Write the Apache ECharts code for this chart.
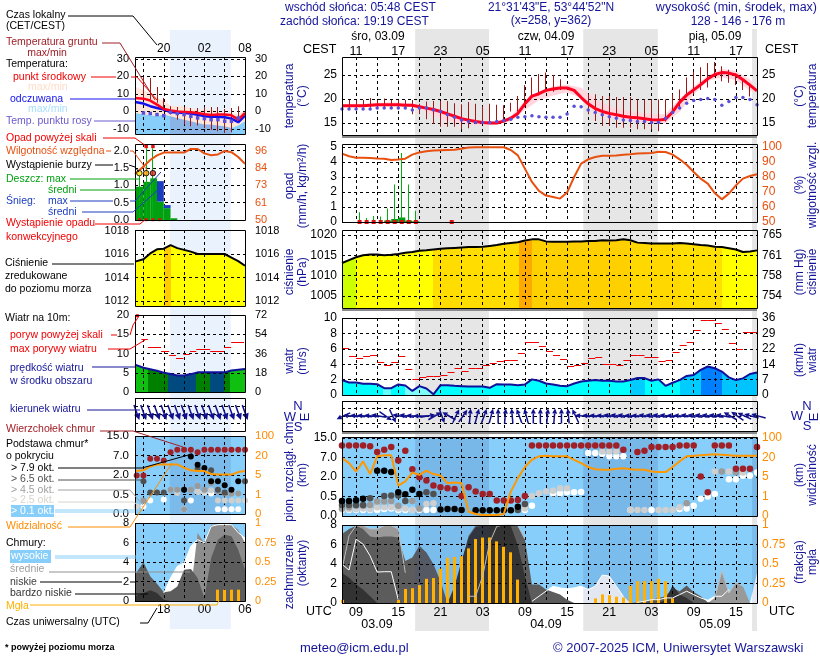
<!DOCTYPE html>
<html>
<head>
<meta charset="utf-8">
<title>meteogram</title>
<script src="https://cdn.jsdelivr.net/npm/echarts@6/dist/echarts.min.js"></script>
<style>
html,body{margin:0;padding:0;background:#fff;}
#main{width:820px;height:660px;}
</style>
</head>
<body>
<div id="main"></div>
<script>
// x values on all panels: hours counted from 03.09 00 UTC
var rHours = [];
for (var hh = 7; hh <= 66; hh++) rHours.push(hh);
var lHours = [13.75,15,16,17,18,19,20,21,22,23,24,25,26,27,28,29,30];
var rTicks = [9,12,15,18,21,24,27,30,33,36,39,42,45,48,51,54,57,60,63];
var rLabelHours = [9,15,21,27,33,39,45,51,57,63];
var lTicks = [15,18,21,24,27];
var lLabelHours = [18,24,30];
var rNight = [[17.4,27.9],[41.3,51.9],[65.3,66]];
var lNight = [[18.9,27.9]];

// right panel: temperature
var rTempMid = [18.6,18.6,18.6,18.6,18.7,18.8,18.8,18.8,18.8,18.7,18.7,18.4,18.1,17.8,17.4,16.9,16.4,15.9,15.6,15.3,15.1,15,15,15.4,16,17,19,20.6,21.1,21.8,22.1,22.3,22.3,21.8,20.3,19,18,17.4,17,16.7,16.4,16.2,16.1,15.9,15.7,15.6,15.8,17.3,19.3,20.8,21.9,23,24.2,25.1,25.5,25.4,25,24,22.9,21.7];
var rDew = [17.9,17.9,17.9,17.9,17.9,18.1,18.1,18.1,18.1,18.1,17.7,18.1,18.1,17.7,17.4,16.7,16.2,15.6,15.3,15.1,15.1,15.1,15.3,15.5,15.8,16.2,16.3,16.5,16.3,16.2,16.2,16.2,16.9,18.5,18.4,17.7,17.2,16.7,16.3,16,15.6,15.5,15.3,15.3,15.1,15.1,16,17.2,18.1,19.1,19.7,19.9,20.1,19.9,18.7,19.5,20.3,20.3,19.9,18.8];
var rBandHours = [7,9,11,13,15,17,19,21,23,25,27,29,31,33,35,37,39,41,43,45,47,49,51,53,55,57,59,61,63,65,66];
var rBandHigh = [18.8,18.9,19,19.2,19.2,19,18.4,17.8,16.8,15.9,15.4,15.3,16.4,19.5,21.5,22.6,22.9,22.3,20,18.4,17.6,17.2,16.8,16.8,20,22.6,24.8,26.2,25.8,24,22];
var rBandLow = [18.4,18.4,18.5,18.5,18.5,18.4,17.4,16,15.1,14.7,14.6,14.7,15.4,17.8,19.8,20.8,21.4,20.3,17.2,16.1,15.8,15.3,15,15,17.4,21,23.8,24.6,24,21.8,21.3];
// ground temperature: [hour, min, max]
var rGround = [[8,18.1,19.8],[9,18.1,19.8],[10,18.2,19.8],[11,18.2,20.2],[12,18.4,19.8],[13,18.2,20.1],[14,18.3,19.8],[15,18.3,19.8],[16,18.1,19.8],[17,16.8,19.8],[18,17,19],[19,15.8,19.5],[20,14.8,19.6],[21,14.2,19.6],[22,14.2,19.6],[23,14.2,19.1],[24,13.7,18.9],[25,13.9,19.4],[26,14.8,19],[27,14.8,18.5],[28,15,19],[29,15.2,18.8],[30,15.5,18.7],[31,17.4,19.2],[32,17.4,20.6],[33,18.3,22.9],[34,20.5,24.5],[35,20.8,25.2],[36,22.1,25.5],[37,21.5,25],[38,21.9,24.1],[42,16.8,21],[43,15.4,21],[44,14.4,20.6],[45,14.4,20.6],[46,14,20.4],[47,14,20.4],[48,14,20.4],[49,13.7,19.9],[50,13.7,19.9],[51,13.7,19.9],[52,13.3,19.9],[53,15.3,19.9],[54,17.5,21],[55,18.3,22],[56,20.5,24.5],[57,21,25.7],[58,21.9,26.6],[59,22.4,27.5],[60,24.6,27.7],[61,23.7,26.8],[62,23.4,26.1],[63,22.9,25.3],[64,21.9,24.1],[65,20.5,22.7]];

// right panel: precipitation and humidity
var rRainMax = [[9.5,0,0.65],[10.5,0,0.27],[11.5,0,0.4],[12.5,0,0.37],[13.5,0,0.9],[14.5,0,2.5],[15.5,0,4.6],[16.5,0,2.5],[17.5,0,0.75]];
var rRainMean = [[13,14,0.1,0],[14,15,0.2,0],[15,16,0.3,0],[16,17,0.1,0],[17,18,0.05,0]];
var rConvective = [[9.5,0],[10.5,0],[11.5,0],[12.5,0],[13.5,0],[14.5,0],[15.5,0],[16.5,0],[17.5,0],[22.6,0]];
var rHumidity = [95.6,93.8,92.9,92.9,92.7,92.4,92.2,91.3,91.6,92.2,94.9,96.4,97.1,97.6,97.8,98,98.2,98.9,99.6,99.8,99.8,99.8,99.8,99.8,98,94.4,85.6,76.7,70.7,67.6,66.7,65.6,69.6,80,88.9,91.8,93.3,94.2,94.2,94.4,94.9,95.1,95.6,95.8,96,96.9,96.7,94.9,91.8,88.2,83.3,78.9,75.6,69.3,65.1,68.9,74.4,78.9,80.7,81.8];

// right panel: pressure
var rPressure = [1013.1,1013.8,1014.5,1015,1015.2,1015.2,1015,1015.1,1015.3,1015.6,1015.8,1016.1,1016.2,1016.4,1016.6,1016.7,1016.8,1016.9,1017,1017,1017.1,1017.3,1017.5,1017.8,1018,1018.2,1018.6,1018.9,1018.9,1018.4,1018.3,1018.3,1018.3,1018.4,1018.4,1018.5,1018.5,1018.7,1018.6,1018.7,1018.9,1018.7,1018.1,1018,1017.9,1017.9,1017.9,1017.9,1018,1017.9,1017.7,1017.5,1017.4,1017.1,1017,1016.7,1016.4,1015.8,1015.9,1016.2];
var rPressBands = [[7,9,'#ccff00'],[9,20,'#ffff00'],[20,32.1,'#ffdd00'],[32.1,34,'#ffaa00'],[34,48,'#ffd000'],[48,55,'#ffd800'],[55,61,'#ffdf00'],[61,66,'#ffff00']];

// right panel: wind
var rWindMean = [1.94,1.63,1.63,1.45,1.45,1.41,0.88,0.88,1.37,1.23,0.53,1.15,0.84,0.09,1.28,1.28,1.19,1.15,1.1,1.1,1.1,0.93,1.41,1.37,1.37,1.28,1.37,2.03,1.85,1.5,1.37,1.19,1.15,1.5,1.76,1.85,1.94,1.85,1.85,1.76,1.76,1.94,2.2,2.2,1.85,2.03,1.19,1.59,1.94,2.47,2.6,3.26,3.7,3.48,3.04,2.29,1.94,2.16,2.73,2.91];
var rGust = [6.04,5.07,4.8,5.07,5.2,4.27,3.88,4.27,5.07,3.35,2.03,2.33,2.47,2.47,2.6,2.95,3.48,3.08,3.48,3.48,3.88,4.1,4.36,4.54,4.54,5.46,6.92,6.92,6.39,5.73,5.24,4.71,3.74,3.88,4.14,4.8,4.98,4,4,3.88,4.54,5.2,5.2,4.93,4.93,4.41,4.54,5.59,6.52,6.92,8.41,9.74,9.74,9.3,8.63,6.78,5.99,8.24,8.24];
var rWindBands = [[7,12.8,'#00ffff'],[12.8,14,'#66ffff'],[14,15.9,'#00ffff'],[15.9,20,'#80fbfb'],[20,48,'#00ffff'],[48,50.1,'#00ccff'],[50.1,55.1,'#00ffff'],[55.1,58,'#00ccff'],[58,61,'#0080ff'],[61,66,'#00c4ff']];
var rWindDir = [245,275,275,275,275,280,125,155,280,280,275,270,80,60,160,300,25,35,5,15,20,15,0,5,355,340,345,0,0,5,5,0,355,335,275,275,275,275,280,280,280,275,275,280,280,280,280,275,275,280,280,280,280,280,280,300,305,295,285,285];

// right panel: cloud base, value = position on the 0 / 0.5 / 2 / 7 / 15 km scale (one unit per label)
var rTops = [[7,3.62],[8,3.62],[9,3.62],[10,3.62],[11,3.57],[12,3.28],[13,3.4],[14,3.54],[15,2.85],[16,3.35],[17,2.4],[18,1.99],[19,1.82],[20,1.56],[21,1.48],[22,1.42],[23,1.39],[24,1.03],[25,1.48],[26,1.25],[27,1.13],[28,1.13],[29,0.79],[30,0.79],[31,0.79],[32,0.82],[33,1.03],[34,3.62],[35,3.62],[36,3.62],[37,3.62],[38,3.62],[39,3.62],[40,3.62],[41,3.62],[42,3.62],[43,3.62],[44,3.62],[45,3.62],[46,3.62],[47,3.4],[49,3.28],[50,3.35],[51,3.54],[52,3.54],[53,3.54],[54,3.54],[55,3.62],[56,3.62],[57,3.62],[58,2.03],[59,1.22],[60,3.62],[61,3.62],[62,3.62],[63,2.42],[64,2.42],[65,2.42],[66,3.54]];
var rBlack = [[7,0.77],[8,0.77],[9,0.81],[10,0.89],[12,2.32],[13,2.32],[14,2.25],[15,1.22],[16,1.12],[17,1.34],[18,1.13],[21,0.33],[22,0.36],[23,0.36],[24,0.31],[26,0.29],[27,0.29],[28,0.29],[29,0.29],[30,0.29],[31,0.29],[32,0.48]];
var rDark = [[7,0.57],[8,0.57],[9,0.57],[10,0.57],[11,0.91],[13,1.03],[14,1.05],[15,1.05],[16,0.77],[19,1.22],[20,1.13],[32,0.31],[33,0.62]];
var rGray = [[7,0.39],[8,0.45],[9,0.52],[10,0.52],[11,0.57],[12,0.74],[13,0.74],[14,0.77],[15,0.52],[17,0.77],[18,0.39],[56,0.65],[61,2.28],[63,2.23]];
var rLight = [[7,0.34],[8,0.34],[9,0.34],[10,0.39],[11,0.34],[12,0.45],[13,0.45],[14,0.45],[15,0.39],[16,0.39],[17,0.31],[18,0.34],[19,0.62],[20,0.65],[33,0.39],[34,1.03],[35,1.17],[36,1.25],[37,1.3],[38,1.42],[39,1.42],[44,3.31],[45,3.31],[46,3.31],[48,0.31],[49,0.31],[50,0.31],[52,0.31],[53,0.31],[54,0.31],[55,0.45],[60,2.28],[62,2.28],[64,2.23]];
var rWhite = [[7,0.31],[8,0.31],[9,0.31],[10,0.31],[11,0.31],[12,0.31],[13,0.36],[14,0.39],[15,0.31],[16,0.31],[17,0.31],[18,0.31],[19,0.31],[20,0.31],[33,0.31],[34,0.53],[37,1.17],[38,1.17],[39,1.22],[40,1.22],[41,1.23],[42,3.23],[43,3.23],[44,3.19],[45,3.06],[46,3.06],[47,3.06],[48,0.31],[51,0.31],[55,0.36],[56,0.39],[57,0.53],[58,0.88],[59,1],[60,1.13],[62,1.89],[63,1.89],[64,2.06],[65,2.06],[66,2.23]];
var rVisibility = [2.97,2.71,2.28,2.8,2.15,3.06,3.11,3.11,1.56,1.77,2.23,2.11,2.33,2.15,2.08,1.68,1.72,1.68,0.22,0.1,0.05,0.05,0.05,0.1,1.25,1.94,2.51,2.88,3.06,3.09,3.06,3.06,3.06,2.88,2.71,2.51,2.4,2.37,2.37,2.42,2.45,2.4,2.37,2.37,2.28,2.25,2.25,2.51,2.8,3.06,3.09,3.12,3.14,3.16,3.14,3.12,3.09,3.09,3.09,3.09];

// right panel: cloud cover in octas, fog as fraction
var rHigh = [3.97,3.38,6.55,6.03,4.83,3.17,3.21,3.21,0.34,0,0,0,0,0,0,0,0,0,0,0,0,0,0,0,0,0,0,0.17,0.69,1.21,1.72,1.55,1.45,1.55,1.72,1.38,1.72,2.86,2.76,1.72,0.69,0,0.07,0.17,0.34,0.34,0.52,0.52,0.86,1.21,0.86,0.52,0.28,0.69,0.69,1.38,0,0,0,3.1];
var rMid = [3.45,6.9,7.93,7.93,7.59,7.59,7.93,7.93,7.59,3.1,0,0,0,0,0,0,0,0,0.69,0.69,2.76,6.21,7.86,8,8,7.93,6.55,0,0,0,0,0,0,0,0,0,0,0,0,0,0,0,0,0,0,0,0,0,0,0,0,0,0,0.52,3.28,1.03,2.07,1.72,0,0];
var rLow = [7.07,7.59,7.93,7.59,6.83,6.72,6.83,6.83,6.72,4.31,4.66,5.86,5.17,3.97,2.24,0,0.69,4.14,6.9,7.93,7.93,7.93,7.93,7.93,7.93,7.93,6.55,1.9,1.9,1.38,1.14,0.86,0.34,0,0,0,0,0,0,0,0,0,0.07,0.17,0.34,0.52,0.69,1.55,1.21,1.79,1.14,0.69,0.07,0,0,0,0,0,0,0];
var rVeryLow = [3.1,2.59,1.9,1.38,0.69,0,0,0,0,0,0,0,0,0,0,0,1.72,4.31,6.72,7.76,7.93,7.93,7.93,7.93,7.93,5.86,2.76,0,0,0,0,0,0,0,0,0,0,0,0,0,0,0,0,0,0,0,0.34,1.79,0.86,0.52,0,0,0,0,0,0,0,0,0,0];
var rFog = [[7,0,0.04],[15,0,0.04],[16,0,0.18],[17,0,0.19],[18,0,0.23],[19,0,0.31],[20,0,0.32],[21,0,0.44],[22,0,0.58],[23,0,0.59],[24,0,0.6],[25,0,0.7],[26,0,0.82],[27,0,0.84],[28,0,0.84],[29,0,0.79],[30,0,0.72],[31,0,0.65],[32,0,0.3],[43,0,0.06],[44,0,0.11],[45,0,0.1],[46,0,0.08],[47,0,0.07],[48,0,0.22],[49,0,0.28],[50,0,0.28],[51,0,0.28],[52,0,0.31],[53,0,0.28],[54,0,0.06]];

// left panel: temperature
var lTempMid = [7.6,7.2,6.1,3.8,1.3,0.4,-0.2,-0.4,-0.6,-1,-1.7,-2.1,-1.9,-1.9,-2.3,-4.8,-1];
var lApparent = [5.3,4.4,2.9,1.9,1,-0.4,-0.7,-1,-1.3,-2,-2.8,-3.2,-3.2,-3.4,-4.2,-6.3,-2.5];
var lTempHigh = [13.9,12,10.5,8,5.7,3.2,2.9,2.9,1.9,1,1,1,0,-1,-1,-1.9,1];
var lApparentHigh = [-1,-1.9,-2.3,-2.9,-1.9,-2.9,-3.8,-4.8,-5.7,-6.7,-7.6,-7.6,-8.2,-8.6,-9.5,-8.2,-5.7];
var lBlueBands = [[13.75,18.9,'#87cefa'],[18.9,27.9,'#8ab4e6'],[27.9,30,'#87cefa']];
var lDew = [[15,-1],[16,-1.3],[17,-1.9],[18,-2.5],[19,-0.6],[20,-1.3],[21,-1.9],[22,-2.9],[23,-3.8],[24,-4.2],[25,-4.8],[26,-4.8],[27,-5.7],[28,-5.7],[29,-3.8]];
var lGround = [[15,7.6,19.6],[16,6.7,19],[17,4.8,13.9],[18,0,7.6],[19,-1.9,2.9],[20,-4.8,2.5],[21,-7.6,2.5],[22,-8.6,1.9],[23,-8.2,1.9],[24,-9.5,2.5],[25,-10.5,2.5],[26,-11.4,2.5],[27,-12.4,1.3],[28,-12,1.9],[29,-5.7,2.9]];

// left panel: precipitation and humidity
var lRain = [[13.75,15,0.96,0],[15,16,1.1,0],[16,17,1.2,0],[17,18,0.53,0],[18,19,0.34,0],[19,20,0.05,0]];
var lSnow = [[17,18,1.12,0.53],[18,19,0.43,0.34]];
var lRainMax = [[14.4,0,1.3],[15.4,0,2.07],[16.4,0,2.07]];
var lOverScale = [[15.4,2.12],[16.4,2.12]];
var lStorm = [[14.4,1.35],[15.4,1.35],[16.4,1.35]];
var lStormColors = ['#ffe000','#ffa000','#e02020'];
var lConvective = [[14.4,0.01],[15.4,0.01],[16.4,0.01],[17.4,0.01]];
var lHumidity = [80.5,85.4,89.8,92.9,94.7,94.7,94.7,94.7,97.1,97.1,94.2,92.9,93.5,95.8,95,91.8,87.2];

// left panel: pressure and wind
var lPressure = [1015.35,1015.55,1016.05,1016.4,1016.45,1016.76,1016.5,1016.35,1016.2,1016,1016,1016,1016,1016,1015.7,1015.4,1015];
var lPressBands = [[13.75,18.1,'#ffff00'],[18.1,19,'#ffcc00'],[19,30,'#ffff00']];
var lWindMean = [7.1,6.3,5.9,5.5,5,4.65,4.3,4.3,4.65,5.1,5.1,5.1,5.1,5.1,5.6,5.8,6];
var lWindBands = [[13.75,15.65,'#10c010'],[15.65,18.6,'#008000'],[18.6,22.7,'#004a80'],[22.7,24.85,'#008000'],[24.85,26.9,'#004a80'],[26.9,27.85,'#008000'],[27.85,30,'#10c010']];
var lGust = [[14.7,15.65,13.7],[15.65,17.6,11.75],[17.6,18.8,10.7],[18.8,19.8,9.74],[19.8,20.9,8.95],[20.9,21.85,9.9],[21.85,22.8,10.7],[22.8,24.85,11.05],[24.85,26.9,10.7],[26.9,27.95,11.75],[27.95,29.85,13.07]];
var lGustOver = [[14.1,19.8]];
var lWindDirHours = [14,15,16,17,18,19,20,21,22,23,24,25,26,27,28,29,30];
var lWindDir = [160,160,160,160,160,160,160,160,160,160,160,160,160,160,160,160,160];

// left panel: cloud base on the same scale units
var lTops = [[14,1.98],[15,1.98],[16,2.83],[17,2.83],[18,2.75],[19,3.17],[20,3.29],[21,3.29],[22,3.29],[23,3.17],[24,3.29],[25,3.29],[26,3.29],[27,3.29],[28,3.29],[29,3.29],[30,3.29]];
var lBlack = [[21,1.25],[22,2.95],[23,2.53],[24,2.36],[25,1.68],[26,1.68],[27,1.47],[28,1.25],[29,1.68]];
var lDark = [[15,1.68],[16,1.1],[17,1.1],[18,1.1],[21,0.69],[23,2.32],[25,2.24],[26,1.25],[27,1.1],[30,1.68]];
var lGray = [[15,0.69],[19,1.25],[20,1.25],[21,0.24],[22,1.25],[23,1.44],[24,1.25],[25,1.59],[26,1.17],[27,1.05],[28,1.05],[29,1.05]];
var lLight = [[14,0.39],[19,1.25],[20,1.08],[23,1.14],[24,1.14],[25,1.22],[26,0.69],[27,0.69],[28,0.69],[29,0.69],[30,0.69]];
var lWhite = [[15,0.39],[16,0.69],[18,0.75],[21,0.24],[22,0.69],[23,1.14],[24,1.1],[25,1.05],[26,0.24],[27,0.24],[28,0.24],[29,0.24]];
var lVisibility = [2.2,2.24,2.44,2.54,2.54,2.54,2.54,2.37,2.24,2.2,2.2,2.05,2.02,2.02,2.02,2.15,2.2];

// left panel: cloud cover
var lHigh = [0,0,0,0,0.82,2.36,3.56,3.9,5.6,6.3,5.95,7.66,7.83,7.83,7.83,7,6.46];
var lMid = [0,0,0,0,0,0,0,0,1,6.97,5.95,7.83,7.83,7.83,7.83,7.32,5.95];
var lLow = [2.7,3.97,2.53,1.78,0.89,0.99,1.5,3.21,3.28,2.36,0.31,4.41,6.29,6.8,6.63,5.26,3.2];
var lVeryLow = [0.48,0.82,1.09,0.82,0.14,0,0,0,0,0,0,0,0,0,0,0,0];
var lFog = [[26,0,0.145],[27,0,0.145],[28,0,0.145],[29,0,0.145]];

// tick labels
var baseLabels = ['0.0','0.5','2.0','7.0','15.0'];
var visLabels = ['0','1','5','20','100'];
var fogTicks = [0,0.25,0.5,0.75,1];

var FONT = 'Liberation Sans';
var NAVY = '#14149a';
var grids = [], xAxes = [], yAxes = [], series = [], graphics = [];

function zip(xs, ys) {
    var out = [];
    for (var i = 0; i < xs.length; i++) out.push([xs[i], ys[i]]);
    return out;
}
function noZero(pairs) {
    return pairs.map(function (p) { return [p[0], p[1] === 0 ? null : p[1]]; });
}
function bandGradient(bands, xmin, xmax) {
    var stops = [];
    bands.forEach(function (b) {
        stops.push({offset: (b[0] - xmin) / (xmax - xmin), color: b[2]});
        stops.push({offset: (b[1] - xmin) / (xmax - xmin), color: b[2]});
    });
    return new echarts.graphic.LinearGradient(0, 0, 1, 0, stops, false);
}

function yAxisOpt(grid, a, split, pos, margin, fontSize) {
    return {
        type: 'value', gridIndex: grid, position: pos, min: a.min, max: a.max, z: 4,
        axisLine: {show: false}, axisTick: {show: false, customValues: a.ticks},
        axisLabel: {
            show: !!a.ticks, customValues: a.labels || a.ticks, margin: margin,
            color: a.color || '#000', fontFamily: FONT, fontSize: fontSize,
            formatter: a.fmt || function (v) { return String(v); }
        },
        splitLine: {show: split, lineStyle: {color: '#000', width: 1, type: [3, 3]}}
    };
}

// one plot: grid, x axis and a y axis on both sides
function panel(rect, xr, ticks, yl, yr, o) {
    o = o || {};
    var g = grids.length;
    grids.push({left: rect[0], top: rect[1], width: rect[2], height: rect[3], show: !!o.sky,
        backgroundColor: o.sky || 'transparent', borderWidth: 0, z: 1});
    var xi = xAxes.length;
    xAxes.push({type: 'value', gridIndex: g, min: xr[0], max: xr[1], z: 4,
        axisLine: {show: false}, axisTick: {show: false, customValues: ticks},
        axisLabel: {show: false, customValues: ticks},
        splitLine: {show: true, lineStyle: {color: '#000', width: 1, type: [3, 3]}}});
    if (o.labels) {
        xAxes.push({type: 'value', gridIndex: g, min: xr[0], max: xr[1], position: o.labelPos, z: 4,
            axisLine: {show: false}, axisTick: {show: false, customValues: o.labels},
            splitLine: {show: false},
            axisLabel: {customValues: o.labels, margin: o.labelMargin, color: '#000', fontFamily: FONT,
                fontSize: o.xFontSize || o.fontSize, formatter: o.labelFmt}});
    }
    var yi = yAxes.length;
    yAxes.push(yAxisOpt(g, yl, true, 'left', o.marginL, o.fontSize));
    yAxes.push(yAxisOpt(g, yr, false, 'right', o.marginR, o.fontSize));
    graphics.push({type: 'rect', z: 30, silent: true, shape: {x: rect[0] + 0.5, y: rect[1] + 0.5, width: rect[2], height: rect[3]},
        style: {fill: 'none', stroke: '#000', lineWidth: 1}});
    if (o.shadow) {
        graphics.push({type: 'rect', z: 30, silent: true, shape: {x: rect[0], y: rect[1] + rect[3] + 1, width: rect[2], height: 2},
            style: {fill: '#8a8a8a'}});
    }
    return {x: xi, yl: yi, yr: yi + 1, rect: rect};
}

function line(p, data, color, width, extra) {
    var s = {type: 'line', xAxisIndex: p.x, yAxisIndex: p.yl, data: data, showSymbol: false, z: 5, silent: true,
        lineStyle: {color: color, width: width}};
    for (var k in extra) s[k] = extra[k];
    series.push(s);
}
function dots(p, data, color, size, symbol) {
    series.push({type: 'scatter', xAxisIndex: p.x, yAxisIndex: p.yl, data: data, symbol: symbol || 'circle', symbolSize: size,
        z: 6, silent: true, clip: false, itemStyle: {color: color, opacity: 1}});
}
// vertical stick: data [x, from, to]
function sticks(p, data, color, width, yIndex) {
    series.push({type: 'custom', xAxisIndex: p.x, yAxisIndex: yIndex === undefined ? p.yl : yIndex, data: data, z: 5, silent: true,
        encode: {x: 0, y: 2},
        renderItem: function (params, api) {
            var a = api.coord([api.value(0), api.value(1)]), b = api.coord([api.value(0), api.value(2)]);
            return {type: 'rect', shape: {x: Math.round(a[0] - width / 2), y: b[1], width: width, height: a[1] - b[1]}, style: {fill: color}};
        }});
}
// block between two x values: data [x0, x1, top, bottom]
function blocks(p, data, color) {
    series.push({type: 'custom', xAxisIndex: p.x, yAxisIndex: p.yl, data: data, z: 5, silent: true,
        encode: {x: [0, 1], y: 2},
        renderItem: function (params, api) {
            var a = api.coord([api.value(0), api.value(2)]);
            var b = api.coord([api.value(1), api.value(3)]);
            return {type: 'rect', shape: {x: a[0], y: a[1], width: b[0] - a[0], height: b[1] - a[1]}, style: {fill: color}};
        }});
}
// gust steps: data [x0, x1, y]
function steps(p, data, color) {
    series.push({type: 'custom', xAxisIndex: p.x, yAxisIndex: p.yl, data: data, z: 5, silent: true,
        encode: {x: [0, 1], y: 2},
        renderItem: function (params, api) {
            var a = api.coord([api.value(0), api.value(2)]), b = api.coord([api.value(1), api.value(2)]);
            return {type: 'rect', shape: {x: a[0], y: Math.round(a[1]), width: b[0] - a[0], height: 1}, style: {fill: color}};
        }});
}
// band between two curves, one quad per pair of neighbouring points
function ribbon(p, xs, low, high, color) {
    var data = [];
    for (var i = 0; i < xs.length - 1; i++) data.push([xs[i], low[i], high[i], xs[i + 1], low[i + 1], high[i + 1]]);
    series.push({type: 'custom', xAxisIndex: p.x, yAxisIndex: p.yl, data: data, z: 2, silent: true,
        encode: {x: [0, 3], y: [1, 2]},
        renderItem: function (params, api) {
            return {type: 'polygon', shape: {points: [
                api.coord([api.value(0), api.value(1)]), api.coord([api.value(3), api.value(4)]),
                api.coord([api.value(3), api.value(5)]), api.coord([api.value(0), api.value(2)])
            ]}, style: {fill: color, stroke: color, lineWidth: 0.5}};
        }});
}
// shading for night hours, full panel height
function shade(p, ranges, color, z) {
    series.push({type: 'custom', xAxisIndex: p.x, yAxisIndex: p.yl, data: ranges, z: z, silent: true,
        encode: {x: [0, 1]},
        renderItem: function (params, api) {
            var c = params.coordSys;
            var x0 = api.coord([api.value(0), 0])[0], x1 = api.coord([api.value(1), 0])[0];
            return {type: 'rect', shape: {x: x0, y: c.y, width: x1 - x0, height: c.height}, style: {fill: color}};
        }});
}
function arrows(p, data, len, headLen, headW) {
    series.push({type: 'custom', xAxisIndex: p.x, yAxisIndex: p.yl, data: data, z: 6, silent: true,
        encode: {x: 0, y: 2},
        renderItem: function (params, api) {
            var c = api.coord([api.value(0), api.value(2)]);
            var a = api.value(1) * Math.PI / 180, dx = Math.sin(a), dy = -Math.cos(a);
            var hx = c[0] + dx * len / 2, hy = c[1] + dy * len / 2;
            var bx = hx - dx * headLen, by = hy - dy * headLen;
            return {type: 'group', children: [
                {type: 'line', shape: {x1: c[0] - dx * len / 2, y1: c[1] - dy * len / 2, x2: bx, y2: by},
                    style: {stroke: '#10108c', lineWidth: 1.5}},
                {type: 'polygon', shape: {points: [[hx, hy], [bx - dy * headW / 2, by + dx * headW / 2], [bx + dy * headW / 2, by - dx * headW / 2]]},
                    style: {fill: '#10108c'}}
            ]};
        }});
}
function area(p, data, color, z) {
    series.push({type: 'line', xAxisIndex: p.x, yAxisIndex: p.yl, data: data, showSymbol: false, z: z, silent: true,
        lineStyle: {width: 0}, areaStyle: {color: color, opacity: 1, origin: 'start'}});
}

function text(x, y, str, color, o) {
    o = o || {};
    graphics.push({type: 'text', z: 40, silent: true, x: x, y: y, rotation: o.rot || 0,
        style: {text: str, fill: color || '#000', font: (o.bold ? 'bold ' : '') + (o.size || 10.5) + 'px "' + FONT + '"',
            textAlign: o.align || 'left', textVerticalAlign: 'middle', lineHeight: o.lh || 14}});
}
function side(x, y, str, color) {
    text(x, y, str, color || NAVY, {size: 12, rot: Math.PI / 2, align: 'center', lh: 13});
}
function lead(points, color) {
    graphics.push({type: 'polyline', z: 35, silent: true, shape: {points: points}, style: {stroke: color, fill: 'none', lineWidth: 1}});
}
function fmtHour(offset) {
    return function (v) {
        var h = (v + offset) % 24;
        return (h < 10 ? '0' : '') + h;
    };
}

// ---------- full height background with night shading ----------
var rRange = [7, 66], lRange = [13.75, 30];
var RX = 342, RW = 415, LX = 135, LW = 110;
function backPanel(rect, xr) {
    var g = grids.length, xi = xAxes.length, yi = yAxes.length;
    grids.push({left: rect[0], top: rect[1], width: rect[2], height: rect[3], show: false});
    xAxes.push({type: 'value', gridIndex: g, min: xr[0], max: xr[1], show: false});
    yAxes.push({type: 'value', gridIndex: g, min: 0, max: 1, show: false});
    return {x: xi, yl: yi};
}
var bgR = backPanel([RX, 29, RW, 602], rRange);
var bgL = backPanel([LX, 30, LW, 599], lRange);
shade(bgR, rNight, '#e6e6e6', 0);
shade(bgL, lNight, '#eaf2fd', 0);

// ---------- right column ----------
var rOpt = {fontSize: 12, xFontSize: 12.5, marginL: 5, marginR: 5};
function ro(extra) { var o = {}; for (var k in rOpt) o[k] = rOpt[k]; for (var j in extra) o[j] = extra[j]; return o; }

var r1 = panel([RX, 57, RW, 78], rRange, rTicks, {min: 12.5, max: 28.75, ticks: [15, 20, 25]}, {min: 12.5, max: 28.75, ticks: [15, 20, 25]},
    ro({shadow: true, labels: rLabelHours, labelPos: 'top', labelMargin: -1, labelFmt: fmtHour(2)}));
ribbon(r1, rBandHours, rBandLow, rBandHigh, '#ffd6de');
sticks(r1, rGround, '#a01818', 1);
line(r1, zip(rHours, rTempMid), '#ff0020', 3);
dots(r1, zip(rHours, rDew), '#5a4fd8', 3.5);

var r2 = panel([RX, 144, RW, 78], rRange, rTicks, {min: 0, max: 5.2, ticks: [0, 1, 2, 3, 4, 5]},
    {min: 50, max: 102, ticks: [50, 60, 70, 80, 90, 100], color: '#e85010'}, ro());
blocks(r2, rRainMean, '#009a10');
sticks(r2, rRainMax, '#00b010', 1);
line(r2, zip(rHours, rHumidity), '#e85010', 2, {yAxisIndex: r2.yr});
dots(r2, rConvective, '#e01010', 4, 'rect');

var r3 = panel([RX, 230, RW, 78], rRange, rTicks, {min: 1002.05, max: 1021.2, ticks: [1005, 1010, 1015, 1020]},
    {min: 751.6, max: 766, ticks: [753.8, 757.6, 761.3, 765.1], fmt: function (v) { return String(Math.round(v)); }}, ro({shadow: true}));
area(r3, zip(rHours, rPressure), bandGradient(rPressBands, 7, 66), 2);
line(r3, zip(rHours, rPressure), '#000', 2);

var r4 = panel([RX, 318, RW, 77], rRange, rTicks, {min: 0, max: 10, ticks: [0, 2, 4, 6, 8, 10]},
    {min: 0, max: 36, ticks: [0, 7.2, 14.4, 21.6, 28.8, 36], fmt: function (v) { return String(Math.round(v)); }}, ro());
area(r4, zip(rHours, rWindMean), bandGradient(rWindBands, 7, 66), 2);
line(r4, zip(rHours, rWindMean), '#10109a', 2);
steps(r4, rHours.slice(0, rGust.length).map(function (h, i) { return [h, h + 1, rGust[i]]; }), '#f00000');

var r5 = panel([RX, 401, RW, 30], rRange, rTicks, {min: -1, max: 1}, {min: -1, max: 1}, ro({shadow: true}));
arrows(r5, rHours.map(function (h, i) { return [h + 0.2, rWindDir[i], 0]; }), 15, 5, 5);

var r6 = panel([RX, 437, RW, 79], rRange, rTicks, {min: 0, max: 4.05, ticks: [0, 1, 2, 3, 4], fmt: function (v) { return baseLabels[v]; }},
    {min: 0, max: 4.05, ticks: [0, 1, 2, 3, 4], color: '#ff8c00', fmt: function (v) { return visLabels[v]; }}, ro({sky: '#87cefa'}));
shade(r6, rNight, 'rgba(40,70,150,0.16)', 3);
dots(r6, rWhite, '#ffffff', 6.5);
dots(r6, rLight, '#cfcfcf', 6.5);
dots(r6, rGray, '#9a9a9a', 6.5);
dots(r6, rDark, '#505050', 6.5);
dots(r6, rBlack, '#000000', 6.5);
dots(r6, rTops, '#a02028', 6.5);
line(r6, zip(rHours, rVisibility), '#ff9800', 2, {z: 7});

var r7 = panel([RX, 525, RW, 78], rRange, rTicks, {min: 0, max: 8, ticks: [0, 2, 4, 6, 8]},
    {min: 0, max: 1, ticks: fogTicks, color: '#ff8c00'},
    ro({sky: '#87cefa', labels: rLabelHours, labelPos: 'bottom', labelMargin: 3, labelFmt: fmtHour(0)}));
area(r7, zip(rHours, rHigh), '#ffffff', 2);
area(r7, zip(rHours, rMid), '#999999', 2);
area(r7, zip(rHours, rLow), '#5c5c5c', 2);
area(r7, zip(rHours, rVeryLow), '#333333', 2);
shade(r7, rNight, 'rgba(40,70,150,0.13)', 3);
line(r7, noZero(zip(rHours, rHigh)), '#ffffff', 1);
line(r7, noZero(zip(rHours, rMid)), '#bdbdbd', 1);
sticks(r7, rFog, '#ffb000', 3, r7.yr);

// ---------- left column ----------
var lOpt = {fontSize: 11, xFontSize: 12, marginL: 6, marginR: 10};
function lo(extra) { var o = {}; for (var k in lOpt) o[k] = lOpt[k]; for (var j in extra) o[j] = extra[j]; return o; }

var l1 = panel([LX, 57, LW, 77], lRange, lTicks, {min: -13, max: 31, ticks: [-10, 0, 10, 20, 30]}, {min: -13, max: 31, ticks: [-10, 0, 10, 20, 30]},
    lo({labels: lLabelHours, labelPos: 'top', labelMargin: 2, labelFmt: fmtHour(2)}));
area(l1, zip(lHours, lTempHigh), '#ffe6da', 2);
area(l1, zip(lHours, lApparentHigh), bandGradient(lBlueBands, 13.75, 30), 2);
sticks(l1, lGround, '#a01818', 1);
line(l1, zip(lHours, lApparent), '#1010f0', 2.5);
line(l1, zip(lHours, lTempMid), '#ff0020', 2.5);
dots(l1, lDew, '#5a4fd8', 3.5, 'rect');

var l2 = panel([LX, 144, LW, 76], lRange, lTicks, {min: 0, max: 2.19, ticks: [0, 0.5, 1, 1.5, 2], fmt: function (v) { return v.toFixed(1); }},
    {min: 50, max: 100.4, ticks: [50, 61.5, 73, 84.5, 96], color: '#e85010', fmt: function (v) { return String(Math.floor(v)); }}, lo());
blocks(l2, lRain, '#00a010');
blocks(l2, lSnow, '#1c3cc0');
sticks(l2, lRainMax, '#00b010', 1);
line(l2, zip(lHours, lHumidity), '#e85010', 2, {yAxisIndex: l2.yr});
dots(l2, lOverScale, '#e01010', 3.5, 'rect');
dots(l2, lConvective, '#e01010', 3, 'rect');
series.push({type: 'scatter', xAxisIndex: l2.x, yAxisIndex: l2.yl, z: 6, silent: true, symbolSize: 5.5,
    data: lStorm.map(function (d, i) { return {value: d, itemStyle: {color: lStormColors[i], borderColor: '#000', borderWidth: 1}}; })});

var l3 = panel([LX, 230, LW, 76], lRange, lTicks, {min: 1011.58, max: 1018.04, ticks: [1012, 1014, 1016, 1018]},
    {min: 1011.58, max: 1018.04, ticks: [1012, 1014, 1016, 1018]}, lo());
area(l3, zip(lHours, lPressure), bandGradient(lPressBands, 13.75, 30), 2);
line(l3, zip(lHours, lPressure), '#000', 2);

var l4 = panel([LX, 315, LW, 77], lRange, lTicks, {min: 0, max: 20, ticks: [0, 5, 10, 15, 20]},
    {min: 0, max: 72, ticks: [0, 18, 36, 54, 72]}, lo());
area(l4, zip(lHours, lWindMean), bandGradient(lWindBands, 13.75, 30), 2);
line(l4, zip(lHours, lWindMean), '#10109a', 2);
steps(l4, lGust, '#f00000');
dots(l4, lGustOver, '#f00000', 3, 'rect');

var l5 = panel([LX, 398, LW, 33], lRange, lTicks, {min: -1, max: 1}, {min: -1, max: 1}, lo());
arrows(l5, lWindDirHours.map(function (h, i) { return [h, lWindDir[i], 0.12]; }), 16, 6.5, 6.5);

var l6 = panel([LX, 436, LW, 78], lRange, lTicks, {min: 0, max: 4, ticks: [0, 1, 2, 3, 4], fmt: function (v) { return baseLabels[v]; }},
    {min: 0, max: 4, ticks: [0, 1, 2, 3, 4], color: '#ff8c00', fmt: function (v) { return visLabels[v]; }}, lo({sky: '#87cefa', fontSize: 11.5}));
shade(l6, lNight, 'rgba(40,70,150,0.14)', 3);
dots(l6, lWhite, '#ffffff', 6);
dots(l6, lLight, '#cfcfcf', 6);
dots(l6, lGray, '#9a9a9a', 6);
dots(l6, lDark, '#505050', 6);
dots(l6, lBlack, '#000000', 6);
dots(l6, lTops, '#a02028', 6);
line(l6, zip(lHours, lVisibility), '#ff9800', 2, {z: 7});

var l7 = panel([LX, 523, LW, 78], lRange, lTicks, {min: 0, max: 8, ticks: [0, 2, 4, 6, 8]},
    {min: 0, max: 1, ticks: fogTicks, color: '#ff8c00'},
    lo({sky: '#87cefa', labels: lLabelHours, labelPos: 'bottom', labelMargin: 3, labelFmt: fmtHour(0)}));
area(l7, zip(lHours, lHigh), '#ffffff', 2);
area(l7, zip(lHours, lMid), '#8c8c8c', 2);
area(l7, zip(lHours, lLow), '#5c5c5c', 2);
area(l7, zip(lHours, lVeryLow), '#333333', 2);
line(l7, noZero(zip(lHours, lHigh)), '#ffffff', 1);
sticks(l7, lFog, '#ffb000', 3, l7.yr);

// ---------- header and footer ----------
text(285, 8, 'wschód słońca: 05:48 CEST', NAVY, {size: 12});
text(280, 22, 'zachód słońca: 19:19 CEST', NAVY, {size: 12});
text(551, 8, '21°31\'43"E, 53°44\'52"N', NAVY, {size: 12, align: 'center'});
text(551, 21, '(x=258, y=362)', NAVY, {size: 12, align: 'center'});
text(817, 8, 'wysokość (min, środek, max)', NAVY, {size: 12.5, align: 'right'});
text(738, 22, '128 - 146 - 176 m', NAVY, {size: 12, align: 'center'});
text(378, 37, 'śro, 03.09', '#000', {size: 12, align: 'center'});
text(546, 37, 'czw, 04.09', '#000', {size: 12, align: 'center'});
text(715, 37, 'pią, 05.09', '#000', {size: 12, align: 'center'});
text(303, 50, 'CEST', '#000', {size: 12.5});
text(765, 50, 'CEST', '#000', {size: 12.5});
text(306, 612, 'UTC', '#000', {size: 12.5});
text(769, 612, 'UTC', '#000', {size: 12.5});
text(377, 625, '03.09', '#000', {size: 12.5, align: 'center'});
text(546, 625, '04.09', '#000', {size: 12.5, align: 'center'});
text(715, 625, '05.09', '#000', {size: 12.5, align: 'center'});
text(300, 648, 'meteo@icm.edu.pl', NAVY, {size: 13});
text(553, 648, '© 2007-2025 ICM, Uniwersytet Warszawski', NAVY, {size: 13});
text(5, 648, '* powyżej poziomu morza', '#000', {size: 9, bold: true});

// rotated panel names
side(296, 96, 'temperatura\n(°C)');
side(296, 186, 'opad\n(mm/h, kg/m²/h)');
side(296, 272, 'ciśnienie\n(hPa)');
side(296, 361, 'wiatr\n(m/s)');
side(290, 470, 'pion. rozciągł. chm.');
side(303, 475, '(km)');
side(290, 572, 'zachmurzenie');
side(303, 563, '(oktanty)');
side(806, 96, '(°C)\ntemperatura');
side(806, 185, '(%)\nwilgotność wzgl.');
side(806, 272, '(mm Hg)\nciśnienie');
side(806, 360, '(km/h)\nwiatr');
side(806, 475, '(km)\nwidzialność');
side(806, 562, '(frakcja)\nmgła');

// compass letters
text(290, 417, 'W', NAVY, {size: 13, align: 'center'});
text(298, 406, 'N', NAVY, {size: 13, align: 'center'});
text(305, 417, 'E', NAVY, {size: 13, align: 'center', rot: Math.PI / 2});
text(298, 427, 'S', NAVY, {size: 13, align: 'center'});
text(797, 416, 'W', NAVY, {size: 13, align: 'center'});
text(807, 406, 'N', NAVY, {size: 13, align: 'center'});
text(814, 417, 'E', NAVY, {size: 13, align: 'center', rot: Math.PI / 2});
text(807, 426, 'S', NAVY, {size: 13, align: 'center'});

// ---------- legend of the left column ----------
var BROWN = '#a02028', RED = '#f00000', HUM = '#e85010', GREEN = '#00a010', SNOW = '#1c3cc0', ORANGE = '#ff8c00', SLATE = '#6a5acd';
text(6, 15, 'Czas lokalny', '#000');
text(6, 26, '(CET/CEST)', '#000');
lead([[68, 16], [133, 16], [157, 45]], '#000');
text(6, 42, 'Temperatura gruntu', BROWN);
text(47, 53, 'max/min', BROWN, {align: 'center'});
lead([[102, 43], [120, 43], [155, 100]], BROWN);
text(6, 64, 'Temperatura:', '#000');
text(13, 77, 'punkt środkowy', RED);
lead([[91, 77], [116, 77]], RED);
lead([[131, 77], [137, 77], [157, 100]], RED);
text(28, 87, 'max/min', '#ffdcc8');
text(10, 99, 'odczuwana', '#1010f0');
lead([[70, 99], [135, 99]], '#1010f0');
text(28, 109, 'max/min', '#a8e0ff');
text(6, 121, 'Temp. punktu rosy', SLATE);
lead([[94, 121], [135, 121]], SLATE);
text(6, 138, 'Opad powyżej skali', RED);
lead([[103, 138], [135, 138], [146, 146]], RED);
text(6, 151, 'Wilgotność względna', HUM);
lead([[106, 151], [111, 151]], HUM);
lead([[130, 151], [133, 151], [147, 170]], HUM);
text(6, 165, 'Wystąpienie burzy', '#000');
lead([[95, 165], [113, 165]], '#000');
lead([[129, 165], [135, 167], [139, 172]], '#000');
text(6, 179, 'Deszcz: max', GREEN);
lead([[70, 179], [139, 179]], GREEN);
text(48, 190, 'średni', GREEN);
lead([[80, 190], [143, 190]], GREEN);
text(6, 201, 'Śnieg:', SNOW);
text(48, 201, 'max', SNOW);
lead([[70, 201], [113, 201]], SNOW);
lead([[130, 201], [135, 201], [161, 172]], SNOW);
text(48, 212, 'średni', SNOW);
lead([[82, 212], [133, 212], [158, 190]], SNOW);
text(6, 223, 'Wystąpienie opadu', RED);
text(6, 237, 'konwekcyjnego', RED);
lead([[95, 224], [140, 224], [146, 219]], RED);
text(5, 263, 'Ciśnienie', '#000');
lead([[52, 264], [134, 264]], '#000');
text(5, 276, 'zredukowane', '#000');
text(5, 289, 'do poziomu morza', '#000');
text(5, 318, 'Wiatr na 10m:', '#000');
text(10, 335, 'poryw powyżej skali', RED);
lead([[111, 335], [117, 335]], RED);
lead([[130, 335], [133, 325], [139, 316]], RED);
text(10, 349, 'max porywy wiatru', RED);
lead([[108, 349], [130, 349], [145, 340]], RED);
text(10, 368, 'prędkość wiatru', NAVY);
lead([[92, 367], [135, 367]], NAVY);
text(10, 381, 'w środku obszaru', NAVY);
text(10, 409, 'kierunek wiatru', NAVY);
lead([[87, 410], [140, 410]], NAVY);
text(6, 429, 'Wierzchołek chmur', BROWN);
lead([[100, 431], [133, 431], [183, 447]], BROWN);
text(6, 444, 'Podstawa chmur*', '#000');
text(6, 456, 'o pokryciu', '#000');
text(11, 468, '> 7.9 okt.', '#000');
lead([[58, 468], [142, 468], [192, 454]], '#000');
text(11, 479, '> 6.5 okt.', '#505050');
lead([[58, 480], [143, 480]], '#505050');
text(11, 490, '> 4.5 okt.', '#a0a0a0');
lead([[58, 490], [130, 490], [143, 505]], '#a0a0a0');
text(11, 500, '> 2.5 okt.', '#d8d4cc');
lead([[58, 502], [133, 502], [143, 507]], '#d8d4cc');
graphics.push({type: 'rect', z: 36, silent: true, shape: {x: 11, y: 505, width: 43, height: 12}, style: {fill: '#87cefa'}});
text(11, 511, '> 0.1 okt.', '#fff');
lead([[55, 510], [135, 510]], '#87cefa');
lead([[55, 512], [135, 512]], '#87cefa');
text(6, 526, 'Widzialność', ORANGE);
lead([[68, 527], [130, 527], [172, 463]], ORANGE);
text(6, 543, 'Chmury:', '#000');
graphics.push({type: 'rect', z: 36, silent: true, shape: {x: 10, y: 550, width: 41, height: 13}, style: {fill: '#87cefa'}});
text(11, 556, 'wysokie', '#fff');
lead([[55, 556], [185, 556]], '#87cefa');
lead([[55, 558], [185, 558]], '#87cefa');
text(10, 569, 'średnie', '#a0a0a0');
lead([[49, 572], [190, 572]], '#909090');
text(10, 582, 'niskie', '#404040');
lead([[40, 582], [122, 582]], '#000');
lead([[130, 582], [136, 582]], '#000');
text(10, 593, 'bardzo niskie', '#333');
lead([[75, 594], [148, 594]], '#000');
text(6, 606, 'Mgła', '#ffb000');
lead([[30, 605], [217, 605], [219, 600]], '#ffb000');
text(6, 622, 'Czas uniwersalny (UTC)', '#000');
lead([[140, 623], [148, 623], [157, 608]], '#000');

var chart = echarts.init(document.getElementById('main'));
chart.setOption({
    animation: false,
    backgroundColor: '#fff',
    textStyle: {fontFamily: FONT},
    grid: grids,
    xAxis: xAxes,
    yAxis: yAxes,
    series: series,
    graphic: {elements: graphics}
});
</script>
</body>
</html>
